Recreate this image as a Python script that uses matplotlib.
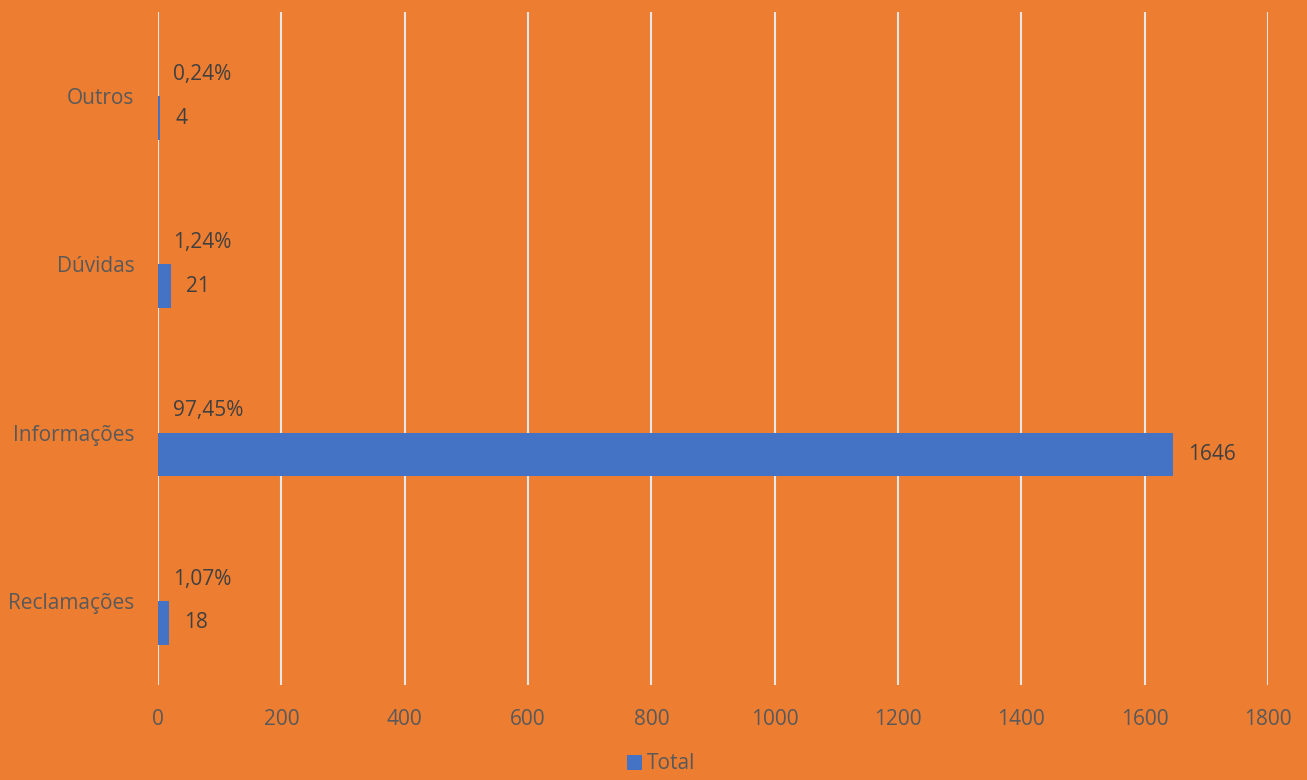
import matplotlib.pyplot as plt

# Dados do gráfico
categorias = ['Reclamações', 'Informações', 'Dúvidas', 'Outros']
totais = [18, 1646, 21, 4]
percentuais = ['1,07%', '97,45%', '1,24%', '0,24%']
xticks = [0, 200, 400, 600, 800, 1000, 1200, 1400, 1600, 1800]

fundo = '#ED7D31'
azul = '#4472C4'

plt.rcParams['font.family'] = ['Open Sans', 'DejaVu Sans']

fig = plt.figure(figsize=(13.07, 7.8), dpi=100, facecolor=fundo)
ax = fig.add_axes([0.1209, 0.1218, 0.8493, 0.8628])
ax.set_facecolor(fundo)

y = list(range(len(categorias)))
alt = 0.26
yb = [v - alt / 2 for v in y]
bars = ax.barh(yb, totais, height=alt, color=azul, label='Total', zorder=3)

# rótulos dos valores e percentuais
for i, b in enumerate(bars):
    ax.annotate(str(totais[i]), (b.get_width(), yb[i]), xytext=(11, 0),
                textcoords='offset points', va='center', ha='left',
                fontsize=15, color='#404040')
    ax.annotate(percentuais[i], (0, y[i] + alt / 2), xytext=(11, 0),
                textcoords='offset points', va='center', ha='left',
                fontsize=15, color='#404040')

ax.set_xlim(0, 1800)
ax.set_ylim(-0.5, len(categorias) - 0.5)
ax.set_xticks(xticks)
ax.set_yticks(y)
ax.set_yticklabels(categorias)
ax.tick_params(axis='both', length=0, labelsize=15, colors='#595959')
ax.tick_params(axis='x', pad=17)
ax.tick_params(axis='y', pad=17)
ax.grid(axis='x', color='#E6E6E6', linewidth=1.5, zorder=0)
for s in ax.spines.values():
    s.set_visible(False)

leg = ax.legend(loc='upper center', bbox_to_anchor=(0.453, -0.08), frameon=False,
                fontsize=15, handlelength=0.75, handleheight=0.75, handletextpad=0.2,
                borderpad=0.2)
for t in leg.get_texts():
    t.set_color('#595959')

fig.savefig('out.png', dpi=100, facecolor=fundo)
